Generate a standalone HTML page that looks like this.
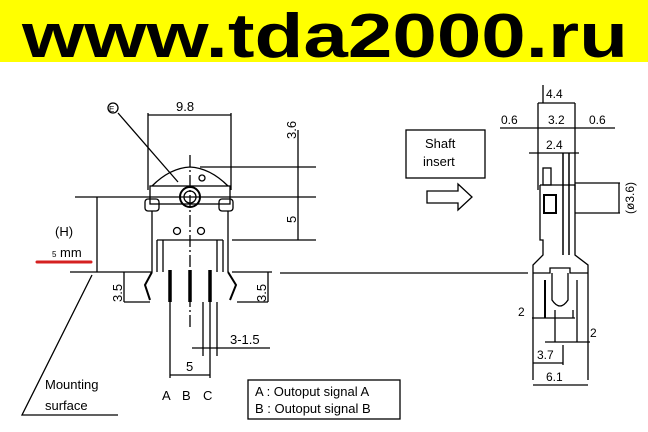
<!DOCTYPE html>
<html><head><meta charset="utf-8"><style>
html,body{margin:0;padding:0;background:#fff;}
svg{display:block;}
text{font-family:"Liberation Sans",sans-serif;fill:#000;}
</style></head><body>
<svg width="648" height="432" viewBox="0 0 648 432" xmlns="http://www.w3.org/2000/svg">
<rect x="0" y="0" width="648" height="62" fill="#ffff00"/>
<text x="22" y="57" font-size="62" font-weight="bold" textLength="606" lengthAdjust="spacingAndGlyphs">www.tda2000.ru</text>

<g stroke="#000" stroke-width="1.3" fill="none">
<!-- 9.8 dim -->
<line x1="148" y1="115" x2="231" y2="115"/>
<line x1="148" y1="113" x2="148" y2="190"/>
<line x1="231" y1="113" x2="231" y2="190"/>
<!-- E leader -->
<circle cx="113" cy="108" r="5"/>
<line x1="118" y1="113" x2="178" y2="182"/>
<!-- body -->
<path d="M152 186 Q170 168 190 167 Q210 168 228 186"/>
<rect x="150" y="186" width="80" height="18"/>
<rect x="145" y="199" width="14" height="12" rx="3"/>
<rect x="219" y="199" width="14" height="12" rx="3"/>
<path d="M152 211 L152 272 M228 211 L228 272"/>
<line x1="157" y1="240" x2="223" y2="240"/>
<path d="M157 240 L157 272 M223 240 L223 272"/>
<line x1="163" y1="240" x2="163" y2="272"/>
<line x1="217" y1="240" x2="217" y2="272"/>
<circle cx="190" cy="197" r="10" stroke-width="2"/>
<circle cx="190" cy="197" r="6"/>
<circle cx="177" cy="231" r="3.5"/>
<circle cx="201" cy="231" r="3.5"/>
<circle cx="202" cy="178" r="3"/>
<!-- center line -->
<line x1="190" y1="155" x2="190" y2="330" stroke-dasharray="12,3,2,3"/>
<!-- H line and right dims -->
<line x1="75" y1="197" x2="316" y2="197"/>
<line x1="200" y1="167" x2="316" y2="167"/>
<line x1="232" y1="240" x2="316" y2="240"/>
<line x1="298" y1="130" x2="298" y2="240"/>
<line x1="97" y1="197" x2="97" y2="272"/>
<!-- mounting line -->
<line x1="70" y1="272" x2="152" y2="272"/>
<line x1="232" y1="272" x2="272" y2="272"/>
<line x1="280" y1="273" x2="528" y2="273"/>
<!-- 3.5 dims -->
<line x1="124" y1="272" x2="124" y2="302"/>
<line x1="124" y1="302" x2="150" y2="302"/>
<line x1="268" y1="272" x2="268" y2="302"/>
<line x1="237" y1="302" x2="268" y2="302"/>
<path d="M152 272 L145 285 L150 300 M228 272 L236 285 L230 300" stroke-width="2"/>
<!-- leads -->
<g stroke-width="3.5"><line x1="170" y1="270" x2="170" y2="302"/><line x1="190" y1="270" x2="190" y2="302"/><line x1="210" y1="270" x2="210" y2="302"/></g>
<line x1="170" y1="302" x2="170" y2="378"/>
<line x1="210" y1="302" x2="210" y2="378"/>
<line x1="203" y1="302" x2="203" y2="356"/>
<line x1="217" y1="302" x2="217" y2="356"/>
<line x1="192" y1="348" x2="270" y2="348"/>
<line x1="170" y1="375" x2="210" y2="375"/>
<!-- mounting leader -->
<path d="M92 275 L22 415 L118 415"/>
<!-- legend box -->
<rect x="248" y="380" width="152" height="39"/>
<!-- right: shaft insert -->
<rect x="406" y="130" width="79" height="48"/>
<path d="M427 191 L458 191 L458 184 L472 197 L458 210 L458 203 L427 203 Z"/>
<!-- side view -->
<line x1="543" y1="85" x2="543" y2="103"/>
<line x1="538" y1="103" x2="575" y2="103"/>
<line x1="500" y1="128" x2="615" y2="128"/>
<line x1="529" y1="153" x2="579" y2="153"/>
<line x1="538" y1="103" x2="538" y2="190"/>
<line x1="575" y1="103" x2="575" y2="190"/>
<path d="M540 185 L575 185 L575 255 L588 265 L588 380 M540 185 L540 240 L543 240 L543 255 L533 265 L533 380"/>
<rect x="544" y="195" width="12" height="18" stroke-width="2"/>
<rect x="543" y="168" width="8" height="17"/>
<line x1="563" y1="153" x2="563" y2="255" stroke-width="1.5"/>
<line x1="569" y1="153" x2="569" y2="255" stroke-width="1.5"/>
<path d="M533 273 L550 273 L550 268 L570 268 L570 273 L588 273"/>
<path d="M552 273 L552 300 Q560 312 568 300 L568 273"/>
<line x1="545" y1="280" x2="545" y2="318" stroke-width="2"/>
<line x1="577" y1="280" x2="577" y2="342"/>
<line x1="555" y1="310" x2="555" y2="342"/>
<line x1="573" y1="310" x2="573" y2="318"/>
<line x1="532" y1="318" x2="575" y2="318"/>
<line x1="545" y1="342" x2="590" y2="342"/>
<line x1="533" y1="363" x2="563" y2="363"/>
<line x1="563" y1="345" x2="563" y2="365"/>
<line x1="533" y1="385" x2="588" y2="385"/>
<line x1="575" y1="183" x2="620" y2="183"/>
<line x1="575" y1="213" x2="620" y2="213"/>
<line x1="619" y1="183" x2="619" y2="213"/>
</g>
<line x1="37" y1="262" x2="91" y2="262" stroke="#d52020" stroke-width="3" stroke-linecap="round"/>

<g font-size="13">
<text x="176" y="111">9.8</text>
<text x="109" y="112" font-size="8">E</text>
<text x="55" y="236">(H)</text>
<text x="52" y="257" font-size="8">5</text><text x="60" y="257">mm</text>
<text transform="translate(296,139) rotate(-90)">3.6</text>
<text transform="translate(296,223) rotate(-90)">5</text>
<text transform="translate(122,302) rotate(-90)">3.5</text>
<text transform="translate(266,302) rotate(-90)">3.5</text>
<text x="230" y="344">3-1.5</text>
<text x="186" y="371">5</text>
<text x="162" y="400">A</text><text x="182" y="400">B</text><text x="203" y="400">C</text>
<text x="45" y="389">Mounting</text>
<text x="45" y="410">surface</text>
<text x="255" y="396">A : Outoput signal A</text>
<text x="255" y="413">B : Outoput signal B</text>
<text x="425" y="148">Shaft</text>
<text x="423" y="166">insert</text>
<text x="546" y="98" font-size="12">4.4</text>
<text x="501" y="124" font-size="12">0.6</text>
<text x="548" y="124" font-size="12">3.2</text>
<text x="589" y="124" font-size="12">0.6</text>
<text x="546" y="149" font-size="12">2.4</text>
<text transform="translate(634,214) rotate(-90)" font-size="12">(ø3.6)</text>
<text x="518" y="316" font-size="12">2</text>
<text x="590" y="337" font-size="12">2</text>
<text x="537" y="359" font-size="12">3.7</text>
<text x="546" y="381" font-size="12">6.1</text>
</g>
</svg>
</body></html>
